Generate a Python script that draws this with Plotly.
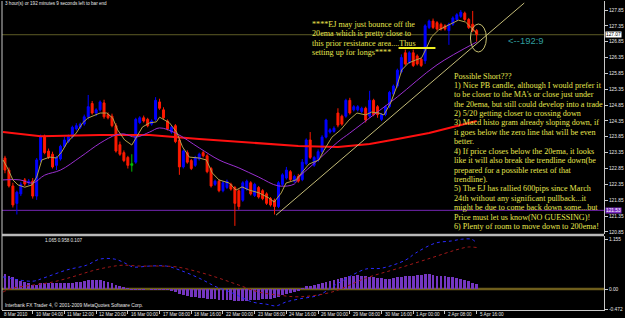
import plotly.graph_objects as go

# ---------------- data ----------------
bar_index = list(range(1, 121))
opens = [123.18, 122.80, 122.30, 121.75, 122.05, 122.49, 122.40, 122.45, 121.98, 123.12,
         123.85, 123.40, 123.30, 122.95, 123.15, 123.55, 123.70, 123.85, 124.10, 124.15,
         124.25, 124.48, 124.90, 124.60, 124.70, 124.92, 124.55, 124.50, 124.20, 123.60,
         123.35, 123.20, 122.95, 123.05, 124.30, 124.45, 124.40, 124.25, 124.40, 124.95,
         124.70, 124.35, 124.00, 124.20, 123.75, 122.90, 123.35, 123.10, 122.95, 123.15,
         123.35, 123.25, 122.85, 122.35, 122.45, 122.15, 122.25, 122.35, 122.25, 122.15,
         121.85, 122.20, 122.40, 122.00, 122.25, 122.15, 122.05, 121.90, 121.85, 121.65,
         122.35, 122.55, 122.75, 122.45, 122.60, 122.50, 123.00, 123.75, 122.95, 123.12,
         123.38, 123.84, 124.00, 124.02, 124.60, 124.50, 124.50, 125.00, 124.70, 124.70,
         124.65, 124.75, 124.50, 125.00, 124.80, 124.40, 124.55, 124.80, 125.20, 125.45,
         125.90, 126.50, 126.20, 126.50, 126.40, 126.30, 126.25, 127.30, 127.50, 127.45,
         127.40, 127.35, 127.20, 127.40, 127.55, 127.65, 127.75, 127.55, 127.40, 127.20]
highs = [123.25, 122.88, 122.40, 122.15, 122.42, 122.55, 122.52, 122.55, 123.18, 123.92,
         123.92, 123.48, 123.38, 123.25, 123.60, 123.85, 123.92, 124.20, 124.28, 124.30,
         124.55, 125.17, 124.98, 124.75, 125.00, 125.02, 124.62, 124.58, 124.28, 123.70,
         123.42, 123.25, 123.30, 124.45, 124.50, 124.52, 124.45, 124.40, 125.10, 125.05,
         124.78, 124.40, 124.22, 124.25, 123.80, 123.45, 123.42, 123.15, 123.25, 123.35,
         123.40, 123.30, 122.90, 122.50, 122.50, 122.45, 122.50, 122.40, 122.30, 122.20,
         122.45, 122.50, 122.45, 122.40, 122.30, 122.20, 122.10, 121.95, 121.90, 122.45,
         122.70, 122.90, 122.80, 122.65, 122.68, 123.15, 123.80, 124.00, 123.25, 123.45,
         123.90, 124.42, 124.12, 124.18, 124.75, 124.55, 125.05, 125.08, 124.85, 124.85,
         124.80, 124.80, 125.30, 125.05, 124.85, 124.60, 124.85, 125.30, 125.50, 126.00,
         126.45, 126.60, 126.55, 126.60, 126.45, 126.35, 127.40, 127.55, 127.58, 127.50,
         127.45, 127.40, 127.45, 127.65, 127.75, 127.85, 127.80, 127.60, 127.82, 127.25]
lows = [122.70, 122.25, 121.62, 121.40, 121.98, 122.30, 122.32, 121.90, 121.86, 123.05,
        123.30, 123.15, 122.85, 122.80, 123.10, 123.50, 123.65, 123.80, 124.05, 124.10,
        124.20, 124.40, 124.55, 124.50, 124.65, 124.42, 124.40, 124.15, 123.35, 123.25,
        123.05, 122.85, 122.75, 123.00, 124.25, 124.30, 124.15, 124.20, 124.35, 124.70,
        124.40, 124.05, 123.95, 123.65, 122.65, 122.85, 123.00, 122.80, 122.90, 123.10,
        123.20, 122.70, 122.25, 122.30, 122.10, 122.10, 122.20, 122.15, 121.04, 121.55,
        121.80, 122.15, 122.00, 121.95, 121.90, 121.85, 121.70, 121.65, 121.40, 121.60,
        122.30, 122.50, 122.45, 122.40, 122.40, 122.45, 122.95, 123.15, 122.90, 123.05,
        123.30, 123.80, 123.95, 123.98, 124.15, 124.20, 124.45, 124.55, 124.65, 124.65,
        124.60, 124.30, 124.45, 124.50, 124.45, 124.35, 124.50, 124.75, 125.15, 125.40,
        125.85, 126.10, 126.15, 126.05, 126.10, 126.05, 126.15, 127.25, 127.25, 127.20,
        127.20, 127.20, 126.75, 127.35, 127.50, 127.60, 127.50, 127.25, 127.15, 126.85]
closes = [122.80, 122.30, 121.70, 122.10, 122.35, 122.36, 122.45, 121.98, 123.12, 123.85,
          123.35, 123.20, 122.90, 123.20, 123.55, 123.75, 123.85, 124.15, 124.20, 124.25,
          124.48, 124.80, 124.60, 124.70, 124.95, 124.48, 124.45, 124.20, 123.40, 123.30,
          123.10, 122.95, 123.00, 124.40, 124.45, 124.35, 124.20, 124.35, 125.00, 124.75,
          124.45, 124.10, 124.15, 123.70, 122.90, 123.40, 123.05, 122.85, 123.20, 123.30,
          123.25, 122.75, 122.30, 122.45, 122.15, 122.40, 122.45, 122.20, 121.75, 121.65,
          122.40, 122.45, 122.05, 122.35, 121.95, 121.90, 121.75, 121.70, 121.65, 122.40,
          122.65, 122.80, 122.50, 122.60, 122.45, 123.05, 123.75, 123.20, 123.20, 123.38,
          123.84, 124.38, 124.07, 124.12, 124.22, 124.25, 125.00, 124.60, 124.80, 124.80,
          124.75, 124.38, 125.00, 124.55, 124.55, 124.55, 124.80, 125.25, 125.45, 125.95,
          126.35, 126.15, 126.50, 126.10, 126.15, 126.10, 127.35, 127.50, 127.30, 127.25,
          127.25, 127.25, 127.40, 127.60, 127.70, 127.78, 127.55, 127.30, 127.20, 127.07]
doji_bars = [33]

ema5_x = [0.5, 1.5, 3, 4.3, 6, 7.8, 9, 10.3, 12.3, 14, 15.3, 16.8, 19, 20.6, 21.9, 23.6, 25,
          26.7, 28.2, 29.4, 31.2, 33, 34.2, 35.7, 37.5, 39.2, 40, 42.5, 44.3, 45.8, 47.5, 50,
          51.8, 53.3, 55, 57.6, 59.3, 60.8, 62.6, 65.1, 67.6, 68.9, 70.7, 71.9, 74.4, 75.9,
          77.7, 80.2, 81.5, 83.5, 85.7, 87.8, 89.8, 92, 93.5, 95.3, 96.6, 98.3, 99.8, 101.1,
          102.8, 104.6, 106.1, 107.1, 108.6, 110.4, 112.9, 115.4, 117.2, 118.7, 120]
ema5_y = [123.12, 122.90, 122.49, 122.33, 122.26, 122.33, 122.58, 123.12, 123.21, 123.18,
          123.37, 123.69, 123.97, 124.29, 124.44, 124.54, 124.60, 124.60, 124.44, 124.07,
          123.75, 123.59, 123.84, 124.16, 124.29, 124.32, 124.47, 124.29, 124.00, 123.53,
          123.21, 123.18, 123.12, 122.71, 122.49, 122.39, 122.17, 122.27, 122.17, 122.08,
          121.92, 121.79, 122.08, 122.39, 122.49, 122.71, 122.99, 123.12, 123.43, 123.84,
          124.07, 124.38, 124.60, 124.54, 124.63, 124.60, 124.54, 124.92, 125.42, 125.96,
          126.18, 126.27, 126.34, 126.59, 127.00, 127.22, 127.38, 127.53, 127.47, 127.28,
          127.12]
ema20_x = [0.5, 4.8, 8, 11, 15, 20, 25, 29, 31, 34, 37.5, 40, 44, 50, 55, 60, 65, 70, 74,
           75, 80, 85, 88, 94, 100, 110, 120]
ema20_y = [122.49, 122.49, 122.39, 122.64, 122.80, 123.21, 123.65, 123.91, 123.94, 123.84,
           124.00, 124.13, 123.97, 123.50, 123.12, 122.87, 122.58, 122.30, 122.36, 122.55,
           123.12, 123.69, 123.97, 124.54, 125.11, 126.12, 126.84]
ema200_x = [0.5, 10, 25, 37.5, 50, 62.6, 75, 85, 93, 100, 108, 114, 120]
ema200_y = [124.00, 123.87, 123.91, 123.91, 123.78, 123.68, 123.56, 123.53, 123.62, 123.78,
            123.97, 124.16, 124.35]

trend_x = [69.4, 132.0]
trend_y = [121.38, 128.07]
bid_price = 127.07
level_price = 121.53
resist_x = [100.3, 109.6]
resist_y = [126.65, 126.65]

macd_hist = [0.35, 0.31, 0.27, 0.23, 0.19, 0.16, 0.13, 0.10, 0.10, 0.13,
             0.14, 0.15, 0.15, 0.15, 0.14, 0.15, 0.15, 0.15, 0.16, 0.17,
             0.19, 0.20, 0.21, 0.21, 0.20, 0.19, 0.17, 0.14, 0.10, 0.06,
             0.03, 0.01, -0.01, -0.01, -0.01, -0.01, 0.00, -0.01, -0.01, -0.01,
             -0.02, -0.02, -0.05, -0.08, -0.12, -0.14, -0.16, -0.18, -0.19, -0.20,
             -0.21, -0.22, -0.23, -0.24, -0.25, -0.25, -0.26, -0.26, -0.27, -0.27,
             -0.27, -0.27, -0.26, -0.26, -0.25, -0.24, -0.23, -0.22, -0.21, -0.19,
             -0.15, -0.12, -0.10, -0.07, -0.03, 0.02, 0.06, 0.08, 0.10, 0.12,
             0.14, 0.17, 0.19, 0.20, 0.22, 0.25, 0.28, 0.30, 0.31, 0.32,
             0.31, 0.29, 0.28, 0.27, 0.26, 0.25, 0.23, 0.23, 0.25, 0.27,
             0.28, 0.30, 0.31, 0.31, 0.32, 0.33, 0.35, 0.34, 0.33, 0.31,
             0.30, 0.29, 0.28, 0.27, 0.25, 0.24, 0.21, 0.18, 0.14, 0.11]
macd_blue_x = [0.5, 8, 10.6, 16.6, 21.6, 24.9, 28.7, 31.7, 33.2, 37.5, 41.7, 45, 50, 54.3,
               58.3, 63.4, 66.9, 69.4, 71.9, 75.2, 80.2, 85.2, 92, 96, 102.1, 104.6, 109.6,
               113.7, 116.2, 118.7, 120]
macd_blue_y = [0.28, 0.18, 0.25, 0.44, 0.55, 0.69, 0.69, 0.58, 0.51, 0.53, 0.53, 0.44, 0.25,
               0.05, -0.09, -0.30, -0.35, -0.39, -0.30, -0.23, -0.14, 0.14, 0.46, 0.48, 0.67,
               0.83, 1.06, 1.11, 1.15, 1.15, 1.065]
macd_red_x = [0.5, 3, 8, 13, 18, 23, 27.4, 30.7, 35, 40, 44.3, 50, 55, 60, 65, 70, 75.2,
              83.5, 92, 100.3, 108.6, 114.7, 117.9, 120]
macd_red_y = [-0.07, 0.02, 0.09, 0.16, 0.28, 0.42, 0.51, 0.55, 0.53, 0.53, 0.51, 0.39, 0.25,
              0.09, -0.07, -0.14, -0.18, -0.07, 0.25, 0.48, 0.72, 0.90, 0.97, 0.958]

x_tick_index = [0, 8, 16, 24, 32, 40, 48, 56, 64, 72, 80, 88, 96, 104, 112, 120]
x_tick_text = ["8 Mar 2010", "10 Mar 04:00", "11 Mar 12:00", "12 Mar 20:00", "16 Mar 00:00",
               "17 Mar 08:00", "18 Mar 16:00", "22 Mar 00:00", "23 Mar 08:00", "24 Mar 16:00",
               "26 Mar 00:00", "29 Mar 08:00", "30 Mar 16:00", "1 Apr 00:00", "2 Apr 08:00",
               "5 Apr 16:00"]
y_tick_vals = [127.85, 127.35, 126.85, 126.35, 125.85, 125.35, 124.85, 124.35, 123.85,
               123.35, 122.85, 122.35, 121.85, 121.35, 120.85]
macd_tick_vals = [1.155, 0.0, -0.472]
macd_tick_text = ["1.155", "0.00", "-0.472"]

note1 = ["****EJ may just bounce off the",
         "20ema which is pretty close to",
         "this prior resistance area....Thus",
         "setting up for longs****"]
note2 = ["Possible Short???",
         "1) Nice PB candle, although I would prefer it",
         "to be closer to the MA's or close just under",
         "the 20ema, but still could develop into a trade",
         "2) 5/20 getting closer to crossing down",
         "3) Macd histo gram already sloping down, if",
         "it goes below the zero line that will be even",
         "better.",
         "4) If price closes below the 20ema, it looks",
         "like it will also break the trendline down(be",
         "prepared for a possible retest of that",
         "trendline).",
         "5) The EJ has rallied 600pips since March",
         "24th without any significant pullback...it",
         "might be due to come back down some...but",
         "Price must let us know(NO GUESSING)!",
         "6) Plenty of room to move down to 200ema!"]
countdown_text = "<--192:9"
timer_text = "3 hour(s) or 192 minutes 9 seconds left to bar end"
macd_values_text = "1.065 0.958 0.107"
copyright_text = "Interbank FX Trader 4, \u00a9 2001-2009 MetaQuotes Software Corp."

# ---------------- layout geometry (pixels) ----------------
W, H = 625, 318
L_PX, R_PX, T_PX, B_PX = 2, 606, 1, 310
MAIN_BOT_PX, MACD_TOP_PX = 234, 236
BAR0_PX, PX_PER_BAR = 1.0, 3.977


def px(x):
    return (x - L_PX) / (R_PX - L_PX)


def py(y):
    return (B_PX - y) / (B_PX - T_PX)


def bar_paper(i):
    return px(BAR0_PX + i * PX_PER_BAR)


def price_at(ypix):
    return 127.85 - (ypix - 10) / 31.7


def macd_at(ypix):
    return (289 - ypix) / (50 / 1.155)


x_range = [(L_PX - BAR0_PX) / PX_PER_BAR, (R_PX - BAR0_PX) / PX_PER_BAR]

BLUE, RED, GREEN = "#0000ff", "#ff1a00", "#00c000"
TXT_YEL = "#e6e64e"
SMALL = dict(family="Liberation Sans", size=4.8, color="#e8e8e8")
TINY = dict(family="Liberation Sans", size=4.6, color="#e8e8e8")
NOTE_FONT = dict(family="Liberation Serif", size=8.15, color=TXT_YEL)

fig = go.Figure()

keep = [k for k, b in enumerate(bar_index) if b not in doji_bars]
dj = [k for k, b in enumerate(bar_index) if b in doji_bars]


def sel(arr, idx):
    return [arr[k] for k in idx]


fig.add_trace(go.Candlestick(
    x=sel(bar_index, keep), open=sel(opens, keep), high=sel(highs, keep),
    low=sel(lows, keep), close=sel(closes, keep),
    increasing=dict(line=dict(color=BLUE, width=1), fillcolor=BLUE),
    decreasing=dict(line=dict(color=RED, width=1), fillcolor=RED),
    whiskerwidth=0, xaxis="x", yaxis="y", showlegend=False, hoverinfo="skip"))
fig.add_trace(go.Candlestick(
    x=sel(bar_index, dj), open=sel(opens, dj), high=sel(highs, dj),
    low=sel(lows, dj), close=sel(closes, dj),
    increasing=dict(line=dict(color=GREEN, width=1), fillcolor=GREEN),
    decreasing=dict(line=dict(color=GREEN, width=1), fillcolor=GREEN),
    whiskerwidth=0, xaxis="x", yaxis="y", showlegend=False, hoverinfo="skip"))

fig.add_trace(go.Scatter(x=ema200_x, y=ema200_y, mode="lines", line=dict(color="#ff1010", width=2),
                         xaxis="x", yaxis="y", showlegend=False, hoverinfo="skip"))
fig.add_trace(go.Scatter(x=ema20_x, y=ema20_y, mode="lines", line=dict(color="#9a2fd0", width=1, shape="spline"),
                         xaxis="x", yaxis="y", showlegend=False, hoverinfo="skip"))
fig.add_trace(go.Scatter(x=ema5_x, y=ema5_y, mode="lines", line=dict(color="#b4a24c", width=1),
                         xaxis="x", yaxis="y", showlegend=False, hoverinfo="skip"))
fig.add_trace(go.Scatter(x=trend_x, y=trend_y, mode="lines", line=dict(color="#c4bc78", width=1),
                         xaxis="x", yaxis="y", showlegend=False, hoverinfo="skip", cliponaxis=True))
fig.add_trace(go.Scatter(x=resist_x, y=resist_y, mode="lines", line=dict(color="#f0f020", width=2),
                         xaxis="x", yaxis="y", showlegend=False, hoverinfo="skip"))

# MACD
fig.add_trace(go.Bar(x=bar_index, y=macd_hist, marker=dict(color="#7436c0", line=dict(width=0)),
                     width=0.72, xaxis="x", yaxis="y2", showlegend=False, hoverinfo="skip"))
fig.add_trace(go.Scatter(x=macd_blue_x, y=macd_blue_y, mode="lines",
                         line=dict(color="#2a2aff", width=1, dash="dot", shape="spline"),
                         xaxis="x", yaxis="y2", showlegend=False, hoverinfo="skip"))
fig.add_trace(go.Scatter(x=macd_red_x, y=macd_red_y, mode="lines",
                         line=dict(color="#a01818", width=1, dash="dot", shape="spline"),
                         xaxis="x", yaxis="y2", showlegend=False, hoverinfo="skip"))

shapes = [
    dict(type="line", xref="paper", yref="y", x0=0, x1=1, y0=bid_price, y1=bid_price,
         line=dict(color="#5e5c26", width=1), layer="below"),
    dict(type="line", xref="paper", yref="y", x0=0, x1=1, y0=level_price, y1=level_price,
         line=dict(color="#7426b4", width=1), layer="below"),
    dict(type="line", xref="paper", yref="y2", x0=0, x1=1, y0=0, y1=0,
         line=dict(color="#6e5e1c", width=2.5), layer="below"),
    dict(type="circle", xref="x", yref="y", x0=(472 - BAR0_PX) / PX_PER_BAR, x1=(488 - BAR0_PX) / PX_PER_BAR,
         y0=price_at(52), y1=price_at(24), line=dict(color="#c8c070", width=1)),
    dict(type="line", xref="paper", yref="paper", x0=0, x1=1, y0=py(235), y1=py(235),
         line=dict(color="#b8b8b8", width=2.5)),
    dict(type="line", xref="paper", yref="paper", x0=0, x1=0, y0=0, y1=1,
         line=dict(color="#c8c8c8", width=1)),
]

ann = []
for k, t in enumerate(note1):
    ann.append(dict(xref="paper", yref="paper", x=px(311), y=py(24 + 9.6 * k), text=t,
                    xanchor="left", yanchor="middle", showarrow=False, font=NOTE_FONT))
for k, t in enumerate(note2):
    ann.append(dict(xref="paper", yref="paper", x=px(453), y=py(76 + 9.4 * k), text=t,
                    xanchor="left", yanchor="middle", showarrow=False, font=NOTE_FONT))
ann.append(dict(xref="paper", yref="paper", x=px(508), y=py(40), text=countdown_text,
                xanchor="left", yanchor="middle", showarrow=False,
                font=dict(family="Liberation Sans", size=9.5, color="#2f9c9c")))
ann.append(dict(xref="paper", yref="paper", x=px(3), y=py(4), text=timer_text,
                xanchor="left", yanchor="middle", showarrow=False, font=TINY))
ann.append(dict(xref="paper", yref="paper", x=px(43), y=py(240), text=macd_values_text,
                xanchor="left", yanchor="middle", showarrow=False, font=TINY))
ann.append(dict(xref="paper", yref="paper", x=px(3), y=py(305), text=copyright_text,
                xanchor="left", yanchor="middle", showarrow=False, font=SMALL))
for tv, tt in zip(x_tick_index, x_tick_text):
    ann.append(dict(xref="paper", yref="paper", x=bar_paper(tv), y=py(314), text=tt,
                    xanchor="left", yanchor="middle", showarrow=False, xshift=1, font=TINY))
ann.append(dict(xref="paper", yref="y", x=1, y=bid_price, text=f"{bid_price:.2f}", xanchor="left",
                yanchor="middle", showarrow=False, bgcolor="#ffffff", borderpad=0, xshift=1,
                font=dict(family="Liberation Sans", size=4.8, color="#000000")))
ann.append(dict(xref="paper", yref="y", x=1, y=level_price, text=f"{level_price:.2f}", xanchor="left",
                yanchor="middle", showarrow=False, bgcolor="#7a2ec0", borderpad=0, xshift=1,
                font=dict(family="Liberation Sans", size=4.8, color="#ffffff")))

fig.update_layout(
    width=W, height=H,
    margin=dict(l=L_PX, r=W - R_PX, t=T_PX, b=H - B_PX),
    paper_bgcolor="#000000", plot_bgcolor="#000000",
    showlegend=False, bargap=0,
    xaxis=dict(range=x_range, anchor="y2", showgrid=False, zeroline=False,
               showline=True, linecolor="#c8c8c8", linewidth=1,
               ticks="outside", ticklen=3, tickcolor="#c8c8c8", tickvals=x_tick_index,
               showticklabels=False, rangeslider=dict(visible=False), fixedrange=True),
    yaxis=dict(domain=[py(MAIN_BOT_PX), 1], range=[price_at(MAIN_BOT_PX), price_at(T_PX)],
               side="right", showgrid=False, zeroline=False, showline=True,
               linecolor="#c8c8c8", linewidth=1, ticks="outside", ticklen=3,
               tickcolor="#c8c8c8", tickvals=y_tick_vals,
               ticktext=[f"{v:.2f}" for v in y_tick_vals], tickfont=SMALL),
    yaxis2=dict(domain=[0, py(MACD_TOP_PX)], range=[macd_at(B_PX), macd_at(MACD_TOP_PX)],
                side="right", anchor="x", showgrid=False, zeroline=False, showline=True,
                linecolor="#c8c8c8", linewidth=1, ticks="outside", ticklen=3,
                tickcolor="#c8c8c8", tickvals=macd_tick_vals, ticktext=macd_tick_text,
                tickfont=SMALL),
    shapes=shapes, annotations=ann,
)

fig.write_html("out.html")
